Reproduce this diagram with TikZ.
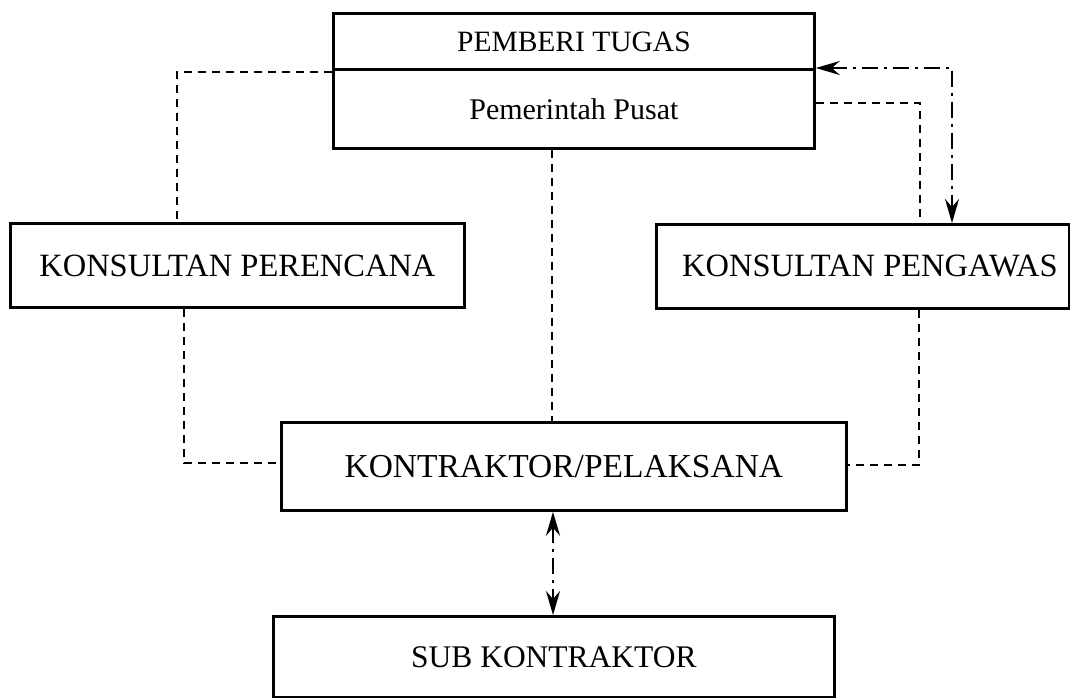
\documentclass[tikz,border=0pt]{standalone}
\usepackage{fontspec}
\setmainfont{Liberation Serif}
\usetikzlibrary{arrows.meta,calc}
\begin{document}
\begin{tikzpicture}[x=1pt,y=-1pt,
  box/.style={draw=black,line width=2.8pt,inner sep=0pt,anchor=north west,font=\fontsize{32.5}{38}\selectfont},
  dashline/.style={line width=2.2pt,dash pattern=on 8pt off 6pt},
  dashdotline/.style={line width=2.2pt,dash pattern=on 16pt off 6pt on 3pt off 6pt},
  tips/.style={{Stealth[length=24pt,width=14pt,inset=8pt]}-{Stealth[length=24pt,width=14pt,inset=8pt]}}
]
\useasboundingbox[fill=white] (0,0) rectangle (1070,698);
% boxes
\node[box,minimum width=481pt,minimum height=56pt,font=\fontsize{29.5}{34}\selectfont] (pt1) at (332,12) {PEMBERI TUGAS};
\node[box,minimum width=481pt,minimum height=79pt,font=\fontsize{30}{34}\selectfont] (pt2) at (332,68) {Pemerintah Pusat};
\node[box,minimum width=454pt,minimum height=84pt] (kp) at (9,222) {KONSULTAN PERENCANA};
\node[box,minimum width=413pt,minimum height=84pt] (kw) at (655,223) {\hspace*{14pt}KONSULTAN PENGAWAS};
\node[box,minimum width=565pt,minimum height=88pt,font=\fontsize{33.5}{38}\selectfont] (kt) at (280,421) {KONTRAKTOR/PELAKSANA};
\node[box,minimum width=561pt,minimum height=81pt,font=\fontsize{31.5}{36}\selectfont] (sk) at (272,615) {SUB KONTRAKTOR};
% dashed connectors
\draw[dashline] (pt2.west |- 0,72) -| (kp.north -| 177,0);
\draw[dashline] (pt2.south -| 552,0) -- (kt.north -| 552,0);
\draw[dashline] (kp.south -| 184,0) |- (kt.west |- 0,463);
\draw[dashline] (kw.south -| 919,0) |- (kt.east |- 0,465);
\draw[dashline] (pt2.east |- 0,103) -| (kw.north -| 920,0);
% dash-dot arrows
\draw[dashdotline,tips] (pt2.north east) -| (kw.north -| 952,0);
\draw[dashdotline,tips] (kt.south -| 553,0) -- (sk.north -| 553,0);
\end{tikzpicture}
\end{document}
